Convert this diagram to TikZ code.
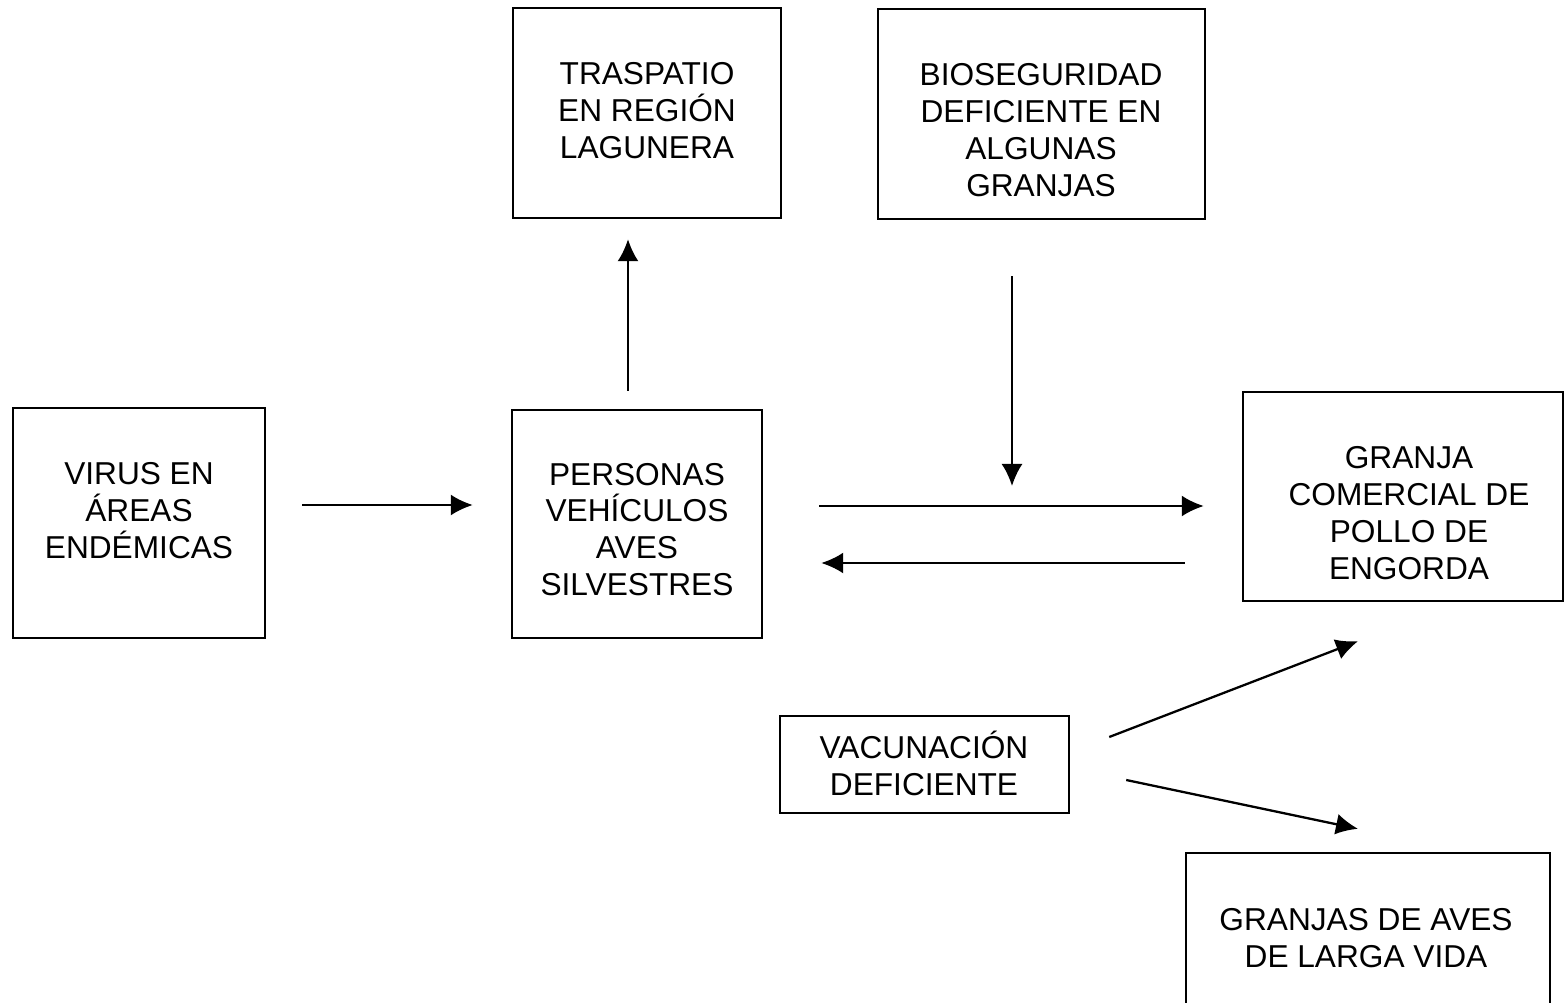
\documentclass[tikz,border=0pt]{standalone}
\usepackage{fontspec}
\setmainfont{Liberation Sans}
\usetikzlibrary{arrows.meta}

\begin{document}
\begin{tikzpicture}[x=0.01cm,y=-0.01cm,>={Latex[length=2.2mm,width=2.1mm]},line width=0.65pt,
  caja/.style={draw,inner sep=0pt},
  texto/.style={align=center,inner sep=0pt,font=\fontsize{9}{10.5}\selectfont}]
\useasboundingbox (0,0) rectangle (1566,1003);
% cajas
\node[caja,minimum width=2.52cm,minimum height=2.30cm] (virus) at (139,523) {};
\node[caja,minimum width=2.50cm,minimum height=2.28cm] (personas) at (637,524) {};
\node[caja,minimum width=2.68cm,minimum height=2.10cm] (traspatio) at (647,113) {};
\node[caja,minimum width=3.27cm,minimum height=2.10cm] (bioseg) at (1041.5,114) {};
\node[caja,minimum width=3.20cm,minimum height=2.09cm] (granja) at (1403,496.5) {};
\node[caja,minimum width=2.89cm,minimum height=0.97cm] (vacuna) at (924.5,764.5) {};
\node[caja,minimum width=3.64cm,minimum height=1.70cm] (granjas) at (1368,938) {};
% textos
\node[texto] (virus-t) at (139,510.5) {VIRUS EN\\ÁREAS\\ENDÉMICAS};
\node[texto] (personas-t) at (637,529.5) {PERSONAS\\VEHÍCULOS\\AVES\\SILVESTRES};
\node[texto] (traspatio-t) at (647,110.5) {TRASPATIO\\EN REGIÓN\\LAGUNERA};
\node[texto] (bioseg-t) at (1041,130) {BIOSEGURIDAD\\DEFICIENTE EN\\ALGUNAS\\GRANJAS};
\node[texto] (granja-t) at (1409,513) {GRANJA\\COMERCIAL DE\\POLLO DE\\ENGORDA};
\node[texto] (vacuna-t) at (924,763.5) {VACUNACIÓN\\DEFICIENTE};
\node[texto] (granjas-t) at (1366,938.5) {GRANJAS DE AVES\\DE LARGA VIDA};
\coordinate (cruce) at (1012,486);
% flechas
\draw[->] ([shift={(36,-18)}]virus.east) -- ([shift={(-38,-19)}]personas.west);
\draw[->] ([shift={(-9,-18)}]personas.north) -- ([shift={(-19,20)}]traspatio.south);
\draw[->] ([shift={(-29.5,56)}]bioseg.south) -- (cruce);
\draw[->] ([shift={(56,-18)}]personas.east) -- ([shift={(-38,9.5)}]granja.west);
\draw[->] ([shift={(-57,66.5)}]granja.west) -- ([shift={(58,39)}]personas.east);
\draw[->] ([shift={(39,-27.5)}]vacuna.east) -- ([shift={(-45,39)}]granja.south);
\draw[->] ([shift={(56,15.5)}]vacuna.east) -- ([shift={(-10,-23)}]granjas.north);
\end{tikzpicture}
\end{document}
